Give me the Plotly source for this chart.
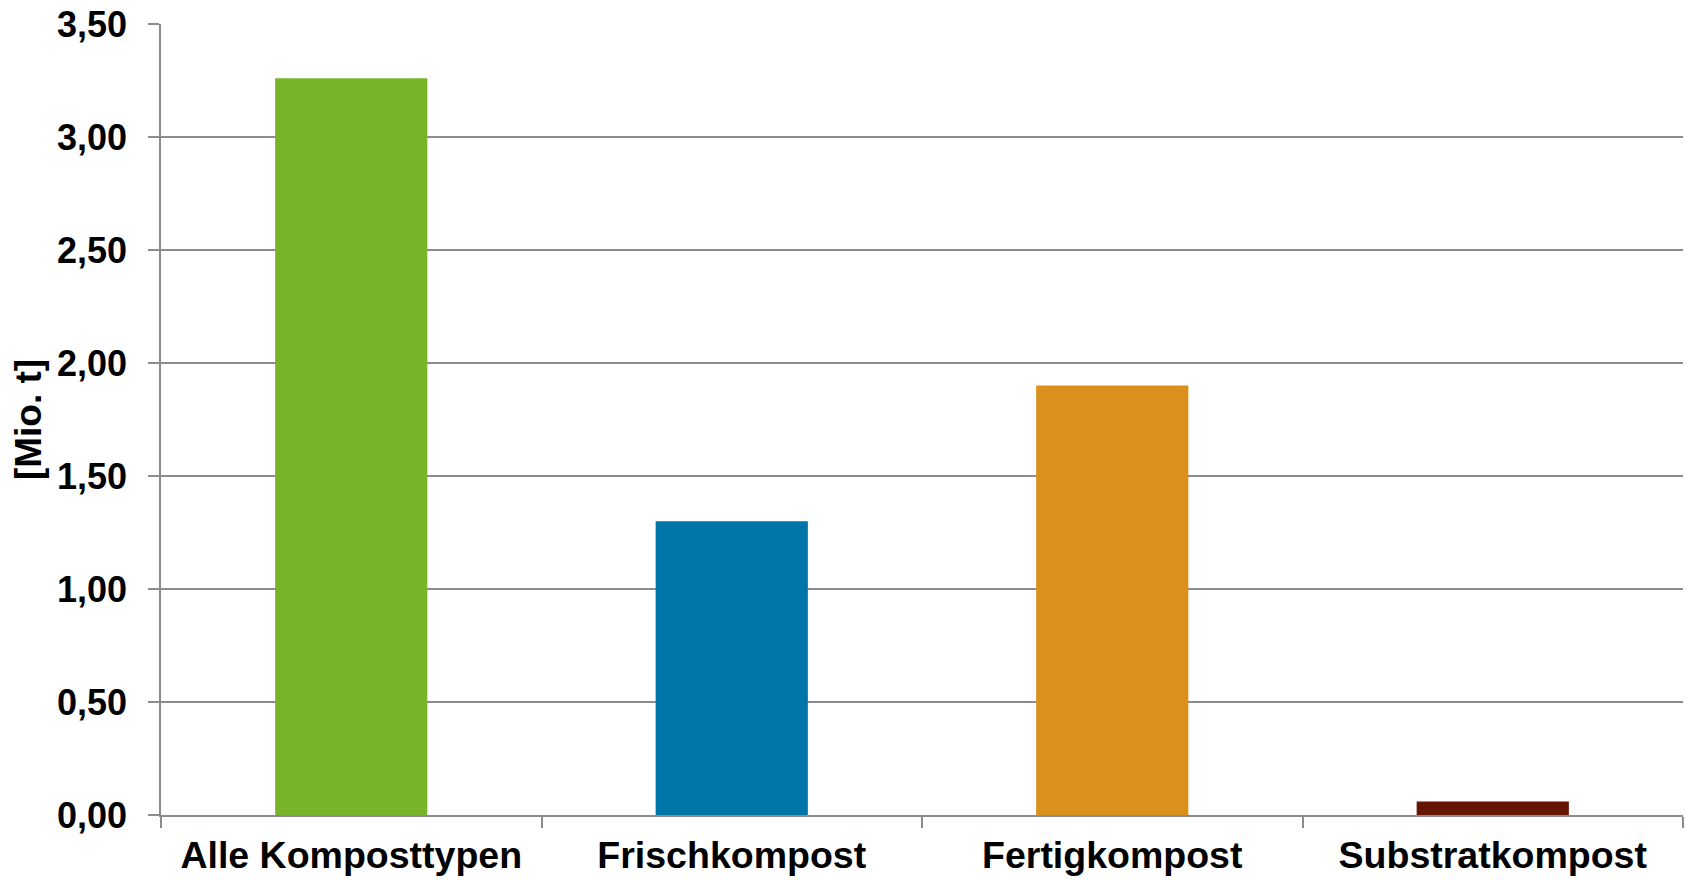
import plotly.graph_objects as go

# Kompostmengen nach Typ
categories = ["Alle Komposttypen", "Frischkompost", "Fertigkompost", "Substratkompost"]
values = [3.26, 1.30, 1.90, 0.06]
bar_colors = ["#78B42A", "#0075A7", "#DB901C", "#661505"]
y_ticks = [0.0, 0.5, 1.0, 1.5, 2.0, 2.5, 3.0, 3.5]
y_title = "[Mio. t]"

font_family = "Liberation Sans, Arial, sans-serif"
axis_gray = "#8C8C8C"

fig = go.Figure(
    go.Bar(
        x=categories,
        y=values,
        marker=dict(color=bar_colors, line=dict(width=0)),
        width=0.4,
    )
)

fig.update_layout(
    width=1686,
    height=880,
    margin=dict(l=161, r=3, t=24, b=65),
    paper_bgcolor="white",
    plot_bgcolor="white",
    separators=",.",
    showlegend=False,
    font=dict(family=font_family, size=36, color="black"),
)

fig.update_yaxes(
    range=[0, 3.5],
    tickvals=y_ticks,
    tickformat=".2f",
    showgrid=True,
    gridcolor=axis_gray,
    gridwidth=1.5,
    showline=True,
    linecolor=axis_gray,
    linewidth=1.5,
    ticks="outside",
    ticklen=11,
    tickcolor=axis_gray,
    tickwidth=1.5,
    ticklabelstandoff=14,
    zeroline=False,
    automargin=False,
    tickfont=dict(family=font_family, size=36, color="black", weight="bold"),
    title=dict(
        text=y_title,
        font=dict(family=font_family, size=37, color="black", weight="bold"),
        standoff=4,
    ),
)

fig.update_xaxes(
    showline=True,
    linecolor=axis_gray,
    linewidth=1.5,
    ticks="outside",
    tickson="boundaries",
    ticklen=11,
    tickcolor=axis_gray,
    tickwidth=1.5,
    ticklabelstandoff=6,
    showgrid=False,
    automargin=False,
    tickfont=dict(family=font_family, size=37.5, color="black", weight="bold"),
)

fig.write_html("out.html")
